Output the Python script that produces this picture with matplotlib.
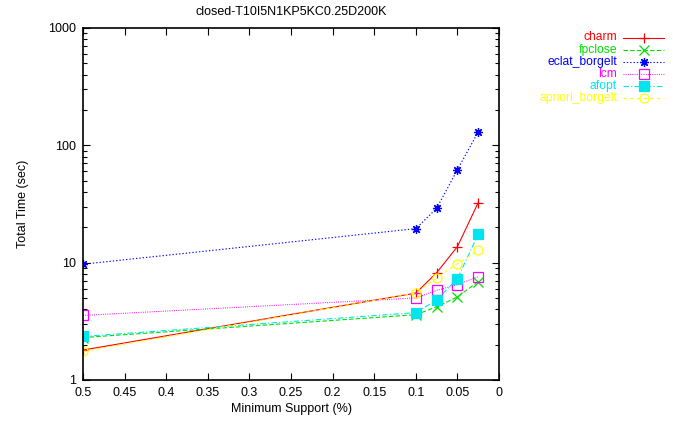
import numpy as np
import matplotlib.pyplot as plt
from matplotlib.lines import Line2D

plt.rcParams['font.family'] = ['Liberation Sans', 'DejaVu Sans']
plt.rcParams['font.size'] = 9

# Data
support = [0.5, 0.1, 0.075, 0.05, 0.025]
charm = [1.8, 5.5, 8.2, 13.7, 32.5]
fpclose = [2.3, 3.6, 4.2, 5.1, 6.9]
eclat_borgelt = [9.7, 19.5, 29, 62, 130]
lcm = [3.55, 5.0, 5.8, 6.5, 7.6]
afopt = [2.35, 3.75, 4.8, 7.3, 17.5]
apriori_borgelt = [1.75, 5.5, 7.4, 9.8, 12.7]

series = [
    ('charm', charm, 'red', '-', '+', 'red'),
    ('fpclose', fpclose, '#00e000', (0, (4, 2)), 'x', '#00e000'),
    ('eclat_borgelt', eclat_borgelt, 'blue', (0, (1.2, 1.8)), (8, 2, 0), 'blue'),
    ('lcm', lcm, '#ff00ff', (0, (0.8, 1.2)), 's', 'none'),
    ('afopt', afopt, '#00e5ee', (0, (5, 2, 1, 2)), 's', '#00e5ee'),
    ('apriori_borgelt', apriori_borgelt, '#ffff00', (0, (3, 3)), 'o', 'none'),
]

fig = plt.figure(figsize=(6.73, 4.24), dpi=100)
ax = fig.add_axes([0.1233, 0.1038, 0.6182, 0.8302])

for name, vals, col, ls, mk, fc in series:
    ax.plot(support, vals, color=col, linestyle=ls, linewidth=0.8,
            marker=mk, markersize=6.5, markerfacecolor=fc, markeredgecolor=col,
            markeredgewidth=0.9)

ax.set_yscale('log')
ax.set_ylim(1, 1000)
ax.set_xlim(0.5, 0)
ax.set_xticks(np.arange(0, 0.51, 0.05))
ax.set_xticklabels(['0', '0.05', '0.1', '0.15', '0.2', '0.25', '0.3', '0.35',
                    '0.4', '0.45', '0.5'])
ax.set_yticks([1, 10, 100, 1000])
ax.set_yticklabels(['1', '10', '100', '1000'])
ax.tick_params(which='both', direction='in', top=True, right=True)
ax.tick_params(which='major', length=5, width=0.8, pad=5)
ax.tick_params(which='minor', length=3, width=0.8)
for s in ax.spines.values():
    s.set_linewidth(1.2)

ax.set_xlabel('Minimum Support (%)', labelpad=3)
ax.set_ylabel('Total Time (sec)', labelpad=14)
ax.set_title('closed-T10I5N1KP5KC0.25D200K', fontsize=9, pad=9)

# legend drawn by hand (text right aligned, sample on the right)
for i, (name, vals, col, ls, mk, fc) in enumerate(series):
    y = 1 - (37.5 + i * 12.1) / 424
    fig.text(617 / 673, y, name, color=col, ha='right', va='center',
             fontsize=8.7)
    fig.add_artist(Line2D([623 / 673, 664 / 673], [y, y], color=col,
                          linestyle=ls, linewidth=0.8))
    fig.add_artist(Line2D([643.5 / 673], [y], color=col, marker=mk,
                          markersize=6.5, markerfacecolor=fc,
                          markeredgecolor=col, markeredgewidth=0.9))

fig.savefig('out.png', dpi=100)
